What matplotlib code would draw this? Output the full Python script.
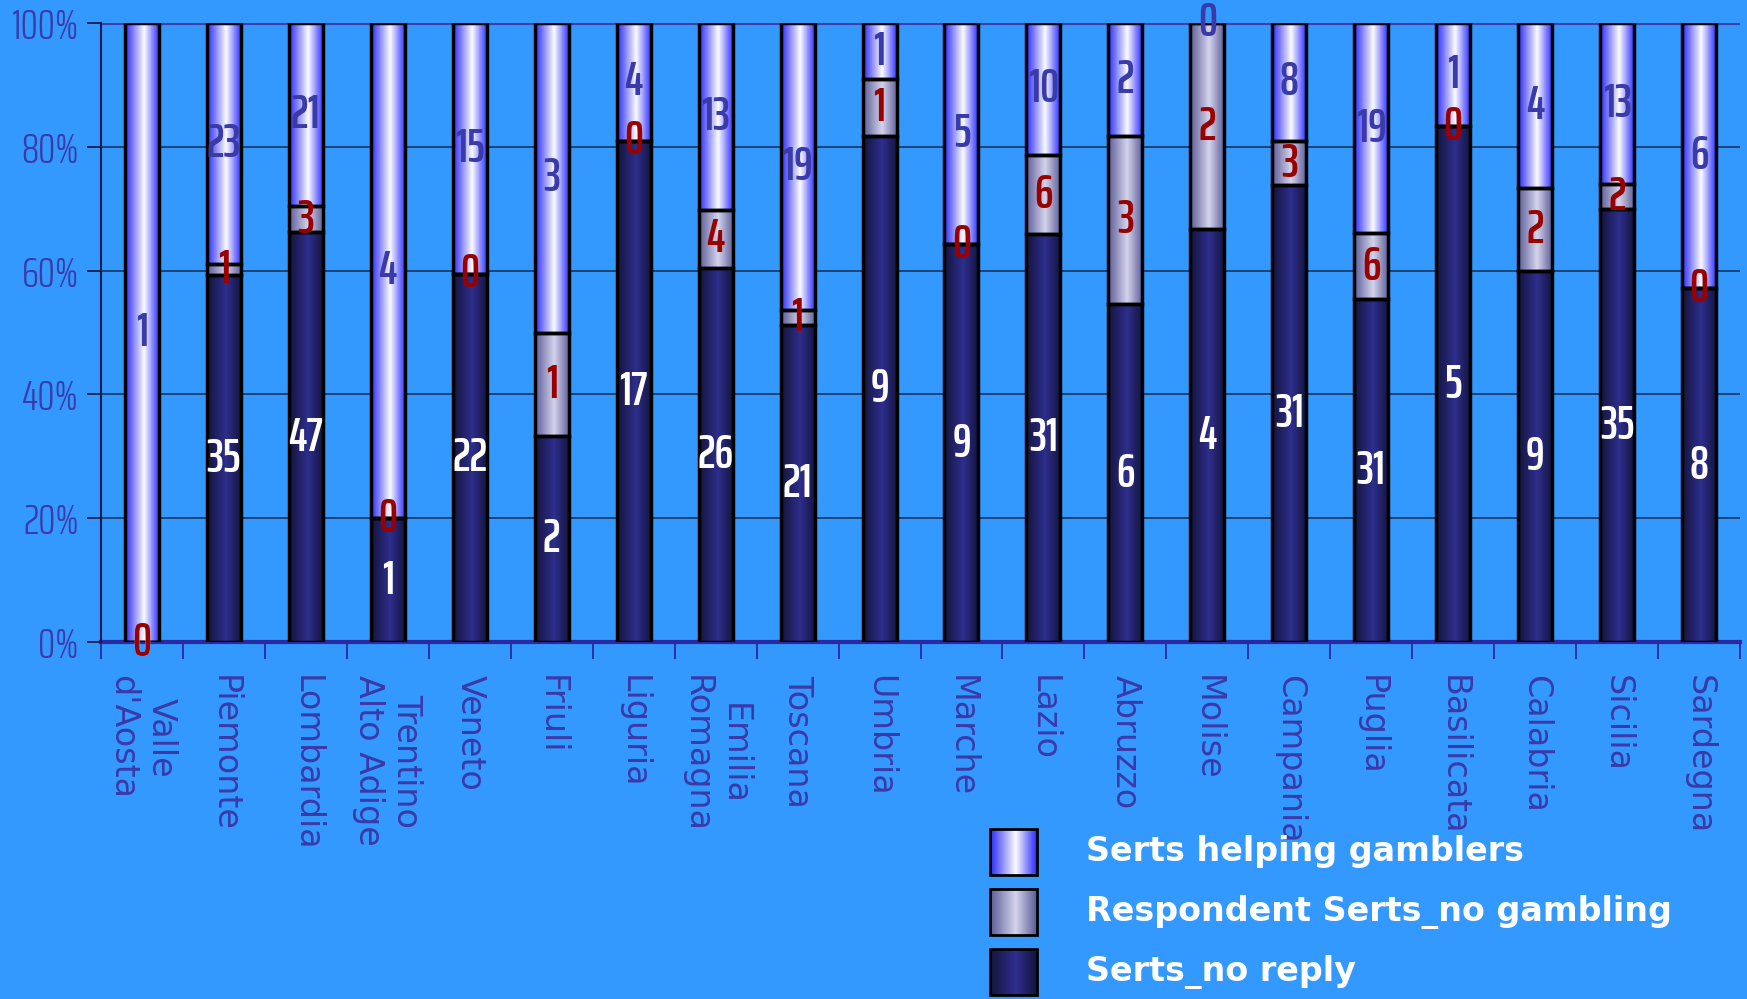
import numpy as np
import matplotlib
matplotlib.use("Agg")
import matplotlib.pyplot as plt
from matplotlib.colors import LinearSegmentedColormap

# Serts per region: no reply / respondent without gambling programme / helping gamblers
regions = ["Valle\nd'Aosta", "Piemonte", "Lombardia", "Trentino\nAlto Adige", "Veneto",
           "Friuli", "Liguria", "Emilia\nRomagna", "Toscana", "Umbria", "Marche", "Lazio",
           "Abruzzo", "Molise", "Campania", "Puglia", "Basilicata", "Calabria", "Sicilia",
           "Sardegna"]
no_reply = [0, 35, 47, 1, 22, 2, 17, 26, 21, 9, 9, 31, 6, 4, 31, 31, 5, 9, 35, 8]
no_gambling = [0, 1, 3, 0, 0, 1, 0, 4, 1, 1, 0, 6, 3, 2, 3, 6, 0, 2, 2, 0]
helping = [1, 23, 21, 4, 15, 3, 4, 13, 19, 1, 5, 10, 2, 0, 8, 19, 1, 4, 13, 6]

series_names = ["Serts helping gamblers", "Respondent Serts_no gambling", "Serts_no reply"]

BG = "#3399ff"
TICK_COLOR = "#3a3aa8"
NUM_FONT = ["Saira ExtraCondensed", "DejaVu Sans"]

# gradient colours for each series: (edge, centre)
grad_colors = {
    "no_reply": ("#14143c", "#2e2e8e"),
    "no_gambling": ("#5c5c98", "#d4d4ec"),
    "helping": ("#2a2aff", "#fbfbff"),
}
label_colors = {"no_reply": "white", "no_gambling": "#990000", "helping": TICK_COLOR}


def make_cmap(edge, centre):
    return LinearSegmentedColormap.from_list("g", [(0, edge), (0.55, centre), (1, edge)])


grad = np.linspace(0, 1, 64).reshape(1, -1)

counts = np.array([no_reply, no_gambling, helping], dtype=float)
totals = counts.sum(axis=0)
shares = counts / totals * 100

fig = plt.figure(figsize=(17.47, 9.99), dpi=100, facecolor=BG)
ax = fig.add_axes([101 / 1747, 1 - 642 / 999, (1740 - 101) / 1747, (642 - 23) / 999])
ax.set_facecolor(BG)

x = np.arange(len(regions))
width = 0.415
bottoms = np.zeros(len(regions))

for key, share, cnt in zip(["no_reply", "no_gambling", "helping"], shares, counts):
    cmap = make_cmap(*grad_colors[key])
    for i in range(len(regions)):
        if share[i] > 0:
            ax.imshow(grad, cmap=cmap, aspect="auto", zorder=2, interpolation="bilinear",
                      extent=[x[i] - width / 2, x[i] + width / 2, bottoms[i], bottoms[i] + share[i]])
    ax.bar(x, share, width, bottom=bottoms, facecolor="none", edgecolor="black",
           linewidth=2.5, zorder=3)
    for i in range(len(regions)):
        ax.text(x[i], bottoms[i] + share[i] / 2, f"{int(cnt[i])}", ha="center", va="center",
                color=label_colors[key], fontsize=34, fontweight=600,
                family=NUM_FONT, zorder=5, clip_on=False)
    bottoms = bottoms + share

ax.set_xlim(-0.5, len(regions) - 0.5)
ax.set_ylim(0, 100)

# grid and frame
ax.set_yticks([0, 20, 40, 60, 80, 100])
ax.set_yticklabels(["0%", "20%", "40%", "60%", "80%", "100%"])
for yv in [20, 40, 60, 80]:
    ax.axhline(yv, color="#1c3c6c", linewidth=1.3, zorder=1)
ax.axhline(100, color="#4040a8", linewidth=3, zorder=1)
for side in ["top", "right"]:
    ax.spines[side].set_visible(False)
ax.spines["left"].set_color("#1a1a50")
ax.spines["left"].set_linewidth(1.5)
ax.spines["bottom"].set_color("#2a2aa0")
ax.spines["bottom"].set_linewidth(3)
ax.spines["bottom"].set_zorder(1)

ax.tick_params(axis="y", colors="#1a1a50", length=10, width=1.3, labelcolor=TICK_COLOR,
               labelsize=31, pad=6)
for lbl in ax.get_yticklabels():
    lbl.set_family(NUM_FONT)
    lbl.set_fontweight(300)

ax.set_xticks(x)
ax.set_xticklabels(regions, rotation=270, ha="center", va="top", multialignment="center",
                   color=TICK_COLOR, fontsize=24)
ax.set_xticks(np.arange(len(regions) + 1) - 0.5, minor=True)
ax.tick_params(axis="x", which="major", length=0, pad=24)
ax.tick_params(axis="x", which="minor", length=12, width=1.3, color="#2a2aa0")

# legend with gradient swatches
lax = fig.add_axes([0, 0, 1, 1])
lax.axis("off")
lax.patch.set_alpha(0)
for row, (key, name) in enumerate(zip(["helping", "no_gambling", "no_reply"], series_names)):
    yc = 852 + row * 60
    lax.imshow(grad, cmap=make_cmap(*grad_colors[key]), aspect="auto", interpolation="bilinear",
               extent=[990, 1037, yc + 23, yc - 23], zorder=2)
    lax.add_patch(plt.Rectangle((990, yc - 23), 47, 46, facecolor="none", edgecolor="black",
                                linewidth=2, zorder=3))
    lax.text(1086, yc, name, color="white", fontsize=24, fontweight="bold", va="center",
             ha="left", family="DejaVu Sans")
lax.set_xlim(0, 1747)
lax.set_ylim(999, 0)

fig.savefig("out.png", dpi=100, facecolor=BG)
